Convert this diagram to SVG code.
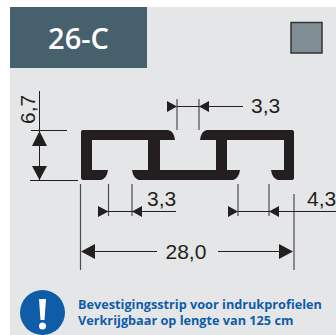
<svg xmlns="http://www.w3.org/2000/svg" width="336" height="335" viewBox="0 0 336 335">
<style>
.l{stroke:#231f20;stroke-width:1;fill:none}
.g{stroke:#4d4d4f;stroke-width:1.2;fill:none}
.a{fill:#231f20}
.d{font-family:"Liberation Sans",Arial,sans-serif;font-size:21px;fill:#231f20}
.n{font-family:"Open Sans",sans-serif;font-weight:700;font-size:12.7px;fill:#0f5da8}
</style>
<rect x="10" y="7" width="326" height="328" fill="#e5e6e8"/>
<g id="header"><rect x="10" y="7" width="137" height="61" fill="#46606c"/>
<text x="78.500" y="49" text-anchor="middle" font-family="'Open Sans',sans-serif" font-size="29" font-weight="600" fill="#fff">26-C</text></g>
<g id="swatch"><rect x="291" y="22.500" width="31" height="30.500" fill="#7f8d94" stroke="#333" stroke-width="1.500"/></g>
<g id="profile"><path fill="#231f20" d="M83 130H168Q174 131 175 140H160V170H132Q133 178 139 180H233Q239 178 240 170H227V140H284V170H271Q272 178 278 180H292Q294 180 294 178V132Q294 130 292 130H207Q201 131 200 140H216V170H160H148V140H92V170H108Q107 178 101 180H83Q81 180 81 178V132Q81 130 83 130Z"/></g>
<g id="connectors">
<path class="l" d="M39.500 91V180M31 130.500H67M30 180.500H78"/>
<path class="g" d="M177 99V130M199 99V130M108.500 184V216M132 184V216M238 184V216M269 184V216M294 194V270M80.500 184V270"/>
<path class="l" d="M177 106.500H243M108 211.500H176M238 211.500H336M87 251.500H157M218 251.500H288"/>
<path class="a" d="M177 106.500L167 101V112ZM199 106.500L209 101V112ZM108.500 211.500L98 206V217ZM132 211.500L142 206V217ZM238 211.500L228 206V217ZM269 211.500L279 206V217ZM81 251.500L95 244V259ZM293 251.500L279 244V259ZM39.500 131L32 146H47ZM39.500 180L32 166H47Z"/>
</g>
<g id="labels">
<text class="d" x="251" y="113">3,3</text>
<text class="d" x="147" y="206">3,3</text>
<text class="d" x="307" y="206">4,3</text>
<text class="d" x="165.500" y="259">28,0</text>
<text class="d" transform="translate(35 124) rotate(-90)">6,7</text>
</g>
<g id="note"><circle cx="42.500" cy="312.500" r="22.500" fill="#0f5da8"/>
<path fill="#fff" d="M39 299H46L44.500 320H40.500Z"/><circle cx="42.500" cy="326" r="3.500" fill="#fff"/>
<text class="n" x="78" y="309">Bevestigingsstrip voor indrukprofielen</text>
<text class="n" x="78" y="325">Verkrijgbaar op lengte van 125 cm</text></g>
</svg>
